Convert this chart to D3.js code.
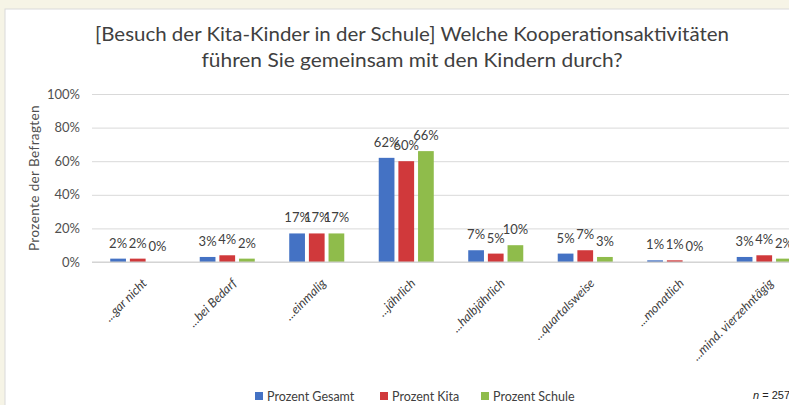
<!DOCTYPE html>
<html>
<head>
<meta charset="utf-8">
<script src="https://cdn.jsdelivr.net/npm/d3@7"></script>
<style>
  body { margin: 0; background: #f6f4e6; }
  svg { display: block; font-family: Lato, "Open Sans", sans-serif; }
</style>
</head>
<body>
<script>
var w = 789;
var h = 405;

// data
var categories = ["...gar nicht", "...bei Bedarf", "...einmalig", "...jährlich",
                  "...halbjährlich", "...quartalsweise", "...monatlich", "...mind. vierzehntägig"];
var series = ["Prozent Gesamt", "Prozent Kita", "Prozent Schule"];
var gesamt = [2, 3, 17, 62, 7, 5, 1, 3];
var kita   = [2, 4, 17, 60, 5, 7, 1, 4];
var schule = [0, 2, 17, 66, 10, 3, 0, 2];
var yTicks = [0, 20, 40, 60, 80, 100];
var colors = ["#4472c4", "#d0393b", "#8fbc4b"];

var values = [gesamt, kita, schule];

var svg = d3.select("body").append("svg")
    .attr("width", w)
    .attr("height", h);

// page frame
svg.append("rect")
    .attr("x", 5).attr("y", 9)
    .attr("width", w).attr("height", h)
    .attr("fill", "#fff")
    .attr("stroke", "#d9d9d9");

//Create scale functions
var x0 = d3.scaleBand()
    .domain(categories)
    .range([93, 809])
    .paddingInner(0.385)
    .paddingOuter(0.1925);
var x1 = d3.scaleBand()
    .domain(series)
    .range([0, x0.bandwidth()])
    .paddingInner(0.2);
var yScale = d3.scaleLinear()
    .domain([0, 100])
    .range([262, 94]);

// title
var title = svg.append("text")
    .attr("text-anchor", "middle")
    .attr("fill", "#404040")
    .style("font-size", "20px");
title.append("tspan")
    .attr("x", 412).attr("y", 41)
    .attr("textLength", 634).attr("lengthAdjust", "spacingAndGlyphs")
    .text("[Besuch der Kita-Kinder in der Schule] Welche Kooperationsaktivitäten");
title.append("tspan")
    .attr("x", 412).attr("y", 67)
    .attr("textLength", 421).attr("lengthAdjust", "spacingAndGlyphs")
    .text("führen Sie gemeinsam mit den Kindern durch?");

//Gridlines + Y axis
var yAxis = d3.axisLeft(yScale)
    .tickValues(yTicks)
    .tickSize(-(w - 92))
    .tickPadding(12)
    .tickFormat(function(d) { return d + "%"; });
var gy = svg.append("g")
    .attr("transform", "translate(92,0)")
    .call(yAxis);
gy.select(".domain").remove();
gy.selectAll(".tick line").attr("stroke", "#d9d9d9");
gy.selectAll(".tick text")
    .attr("fill", "#505050")
    .style("font-size", "13px")
    .style("font-family", "Lato, sans-serif");

// y title
svg.append("text")
    .attr("transform", "translate(39,178) rotate(-90)")
    .attr("text-anchor", "middle")
    .attr("fill", "#505050")
    .style("font-size", "13.5px")
    .style("letter-spacing", "0.4px")
    .text("Prozente der Befragten");

//Create bars
var groups = svg.selectAll("g.group")
    .data(categories)
    .enter().append("g")
    .attr("class", "group")
    .attr("transform", function(d) { return "translate(" + x0(d) + ",0)"; });

groups.selectAll("rect")
    .data(function(d, i) {
        return series.map(function(s, j) { return { s: s, v: values[j][i], c: colors[j] }; });
    })
    .enter().append("rect")
    .attr("x", function(d) { return x1(d.s); })
    .attr("y", function(d) { return yScale(d.v); })
    .attr("width", x1.bandwidth())
    .attr("height", function(d) { return yScale(0) - yScale(d.v); })
    .attr("fill", function(d) { return d.c; });

// data labels
groups.selectAll("text")
    .data(function(d, i) {
        return series.map(function(s, j) { return { s: s, v: values[j][i] }; });
    })
    .enter().append("text")
    .attr("x", function(d) { return x1(d.s) + x1.bandwidth() / 2; })
    .attr("y", function(d) { return yScale(d.v) - 11; })
    .attr("text-anchor", "middle")
    .attr("fill", "#404040")
    .style("font-size", "13px")
    .text(function(d) { return d.v + "%"; });

// baseline
svg.append("line")
    .attr("x1", 92).attr("x2", w)
    .attr("y1", yScale(0)).attr("y2", yScale(0))
    .attr("stroke", "#d0d0d0");

// category labels
svg.selectAll("text.cat")
    .data(categories)
    .enter().append("text")
    .attr("class", "cat")
    .attr("transform", function(d) {
        return "translate(" + (x0(d) + x0.bandwidth() / 2 + 10) + ",284) rotate(-45)";
    })
    .attr("text-anchor", "end")
    .attr("fill", "#404040")
    .style("font-size", "12.5px")
    .style("font-style", "italic")
    .text(function(d) { return d; });

// legend
var legendX = [255, 380, 481];
var legend = svg.selectAll("g.legend")
    .data(series)
    .enter().append("g")
    .attr("class", "legend")
    .attr("transform", function(d, i) { return "translate(" + legendX[i] + ",392)"; });
legend.append("rect")
    .attr("x", 0).attr("y", 0)
    .attr("width", 8).attr("height", 8)
    .attr("fill", function(d, i) { return colors[i]; });
legend.append("text")
    .attr("x", 12).attr("y", 8.5)
    .attr("fill", "#404040")
    .style("font-size", "12.5px")
    .text(function(d) { return d; });

// sample size
var n = svg.append("text")
    .attr("x", 753).attr("y", 399)
    .attr("fill", "#222")
    .style("font-size", "11px")
    .style("font-family", "'Liberation Sans', Arial, sans-serif");
n.append("tspan").style("font-style", "italic").text("n");
n.append("tspan").text(" = 257");
</script>
</body>
</html>
